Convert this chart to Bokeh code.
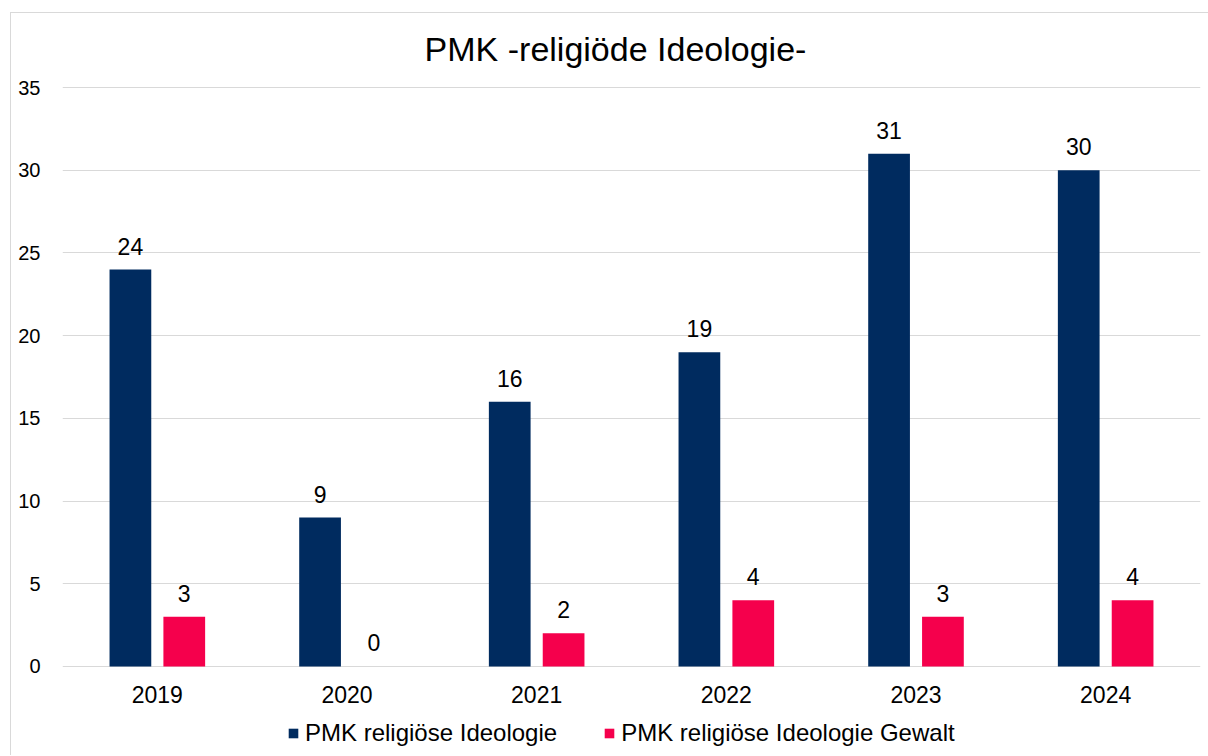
from bokeh.plotting import figure
from bokeh.models import ColumnDataSource, LabelSet, Label, Legend, LegendItem, FixedTicker
from bokeh.transform import dodge
from bokeh.core.properties import value
from bokeh.embed import file_html
from bokeh.resources import INLINE

years = ["2019", "2020", "2021", "2022", "2023", "2024"]
ideologie = [24, 9, 16, 19, 31, 30]
gewalt = [3, 0, 2, 4, 3, 4]
series_names = ["PMK religiöse Ideologie", "PMK religiöse Ideologie Gewalt"]
title_text = "PMK -religiöde Ideologie-"
y_ticks = [0, 5, 10, 15, 20, 25, 30, 35]

NAVY = "#002B5F"
PINK = "#F5004C"
FONT = "Liberation Sans"

src = ColumnDataSource(dict(
    year=years, ideo=ideologie, gew=gewalt, base=[0] * len(years),
    ideo_t=[str(v) for v in ideologie], gew_t=[str(v) for v in gewalt],
))

# the frame is extended above 35 and below 0 so that the title, category labels
# and legend live inside it (annotations are clipped to the frame)
Y_MAX = 35
PX_PER_UNIT = 578 / 35.0
y_bottom = -90 / PX_PER_UNIT
y_top = Y_MAX + 74 / PX_PER_UNIT

p = figure(x_range=years, y_range=(y_bottom, y_top), width=1198, height=743,
           output_backend="svg", toolbar_location=None,
           min_border_left=51, min_border_right=9, min_border_top=0, min_border_bottom=0,
           styles={"border-left": "1px solid #D9D9D9", "border-top": "1px solid #D9D9D9",
                   "margin": "12px 0px 0px 10px"})

p.add_layout(Label(x=553, x_units="screen", y=Y_MAX + 39 / PX_PER_UNIT, text=title_text,
                   text_align="center", text_baseline="alphabetic",
                   text_font=FONT, text_font_size="34px", text_color="#000000"))

r1 = p.vbar(x=dodge("year", -0.142, range=p.x_range), top="ideo", width=0.22, source=src,
            fill_color=NAVY, line_color=None)
r2 = p.vbar(x=dodge("year", 0.142, range=p.x_range), top="gew", width=0.22, source=src,
            fill_color=PINK, line_color=None)

for fld, txt, off in (("ideo", "ideo_t", -0.142), ("gew", "gew_t", 0.142)):
    p.add_layout(LabelSet(x=dodge("year", off, range=p.x_range), y=fld, text=txt, source=src,
                          text_align="center", text_baseline="alphabetic", y_offset=15,
                          text_font=value(FONT), text_font_size="23px", text_color="#000000"))

# category labels
p.add_layout(LabelSet(x="year", y="base", text="year", source=src,
                      text_align="center", text_baseline="alphabetic", y_offset=-37,
                      text_font=value(FONT), text_font_size="23px", text_color="#000000"))

p.outline_line_color = None
p.xgrid.grid_line_color = None
p.ygrid.grid_line_color = "#D9D9D9"
p.ygrid.grid_line_width = 1
p.yaxis.ticker = FixedTicker(ticks=y_ticks)
p.yaxis.axis_line_color = None
p.yaxis.major_tick_line_color = None
p.yaxis.minor_tick_line_color = None
p.yaxis.major_label_text_font = FONT
p.yaxis.major_label_text_font_size = "20px"
p.yaxis.major_label_text_color = "#000000"
p.yaxis.major_label_standoff = 16
p.xaxis.visible = False
p.x_range.range_padding = 0

legend = Legend(items=[LegendItem(label=series_names[0], renderers=[r1]),
                       LegendItem(label=series_names[1], renderers=[r2])],
                orientation="horizontal", location=(225, 9),
                label_text_font=FONT, label_text_font_size="24px", label_text_color="#000000",
                glyph_width=12, glyph_height=12, label_height=24, label_standoff=6, spacing=46,
                border_line_color=None, background_fill_alpha=0, padding=0, margin=0)
p.add_layout(legend, "center")

open("out.html", "w").write(file_html(p, INLINE))
